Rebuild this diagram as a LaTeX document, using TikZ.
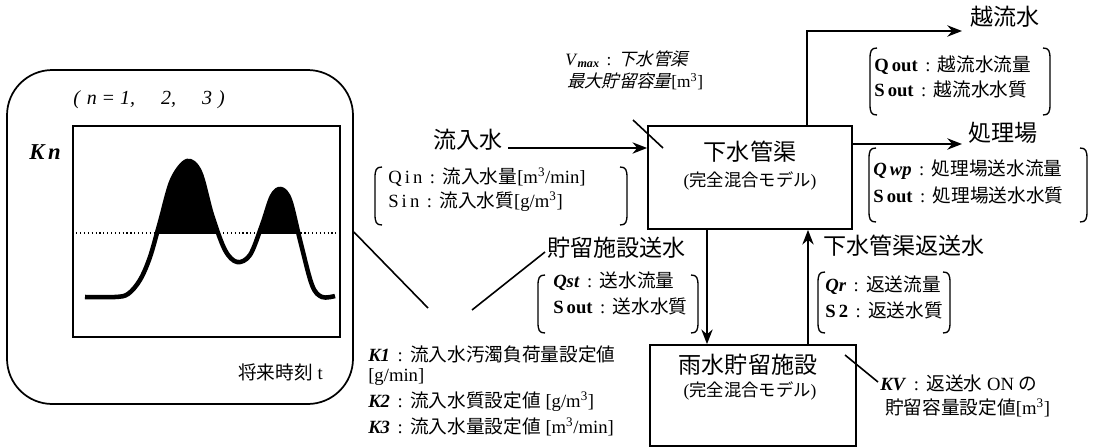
\documentclass[tikz,border=0pt]{standalone}
\usepackage{fontspec}
\setmainfont{Liberation Serif}
\newfontfamily\jpf{Noto Sans CJK JP}
\newfontfamily\jpit{Noto Sans CJK JP}[FakeSlant=0.25]
\usetikzlibrary{arrows.meta}
\newcommand\cj[1]{{\jpf #1}}
\newcommand\kcol{\hspace{0.4em}:\hspace{0.4em}}
\newcommand\LBr[3]{\draw[brk] (#1+7,#2) .. controls (#1+1,#2) and (#1,#2+3) .. (#1,#2+11) -- (#1,#3-11) .. controls (#1,#3-3) and (#1+1,#3) .. (#1+7,#3);}
\newcommand\RBr[3]{\draw[brk] (#1-7,#2) .. controls (#1-1,#2) and (#1,#2+3) .. (#1,#2+11) -- (#1,#3-11) .. controls (#1,#3-3) and (#1-1,#3) .. (#1-7,#3);}
\tikzset{
  box/.style={draw, line width=1.3pt, inner sep=0},
  arr/.style={line width=1.3pt, -{Stealth[length=11pt,width=8.5pt]}},
  ln/.style={line width=1.2pt},
  brk/.style={line width=1pt},
  big/.style={inner sep=0, font=\jpf\fontsize{17.3}{20}\selectfont},
  mid/.style={inner sep=0, font=\fontsize{14}{16}\selectfont},
  sub/.style={inner sep=0, font=\fontsize{13}{15}\selectfont},
}
\begin{document}
\begin{tikzpicture}[x=0.75pt,y=-0.75pt]
\useasboundingbox (0,0) rectangle (1093,447);
% left future box
\node[box, rounded corners=34pt, minimum width=259.5pt, minimum height=250.5pt] (fut) at (180,237) {};
\node[draw, line width=1pt, inner sep=0, minimum width=200.25pt, minimum height=158.25pt] (chart) at (206.5,231.5) {};
\node[inner sep=0, anchor=west, font=\fontsize{15}{17}\selectfont] (nlab) at (73,100) {\textit{(}\hspace{0.3em}\textit{n}\hspace{0.3em}=\hspace{0.3em}\textit{1,}\hspace{1.3em}\textit{2,}\hspace{1.3em}\textit{3}\hspace{0.3em}\textit{)}};
\node[inner sep=0, anchor=west, font=\fontsize{17}{19}\selectfont] (kn) at (29,152) {\textbf{\textit{K\,n}}};
\node[mid, anchor=east] (tlab) at (323,372) {\cj{将来時刻} t};
\coordinate (thr) at (0,233);
\begin{scope}
\clip (73,126) rectangle (340,233);
\fill plot[smooth, tension=0.55] coordinates {(85,297) (115,297) (128,294) (140,280) (150,257) (160,222) (172,180) (187,161) (200,172) (212,215) (225,250) (237,262) (250,255) (262,225) (272,196) (281,189) (290,200) (300,240) (312,285) (322,297) (335,296)} -- cycle;
\end{scope}
\draw[dotted, line width=0.9pt] (chart.west |- thr) -- (chart.east |- thr);
\draw[line width=3.4pt, line join=round] plot[smooth, tension=0.55] coordinates {(85,297) (115,297) (128,294) (140,280) (150,257) (160,222) (172,180) (187,161) (200,172) (212,215) (225,250) (237,262) (250,255) (262,225) (272,196) (281,189) (290,200) (300,240) (312,285) (322,297) (335,296)};

% boxes
\node[box, minimum width=153pt, minimum height=77.25pt] (sew) at (750,177.5) {};
\node[big] (sewt) at (750,152) {下水管渠};
\node[sub] (sews) at (750,181) {(\cj{完全混合モデル})};
\node[box, minimum width=154.5pt, minimum height=75.75pt] (sto) at (753,395.5) {};
\node[big] (stot) at (748,365) {雨水貯留施設};
\node[sub] (stos) at (750,391) {(\cj{完全混合モデル})};

% inflow
\node[big, anchor=west] (inl) at (433,140) {流入水};
\coordinate (inS) at (508,148);
\draw[arr] (inS) -- (sew.west |- inS);
\node[mid, anchor=west] (qin) at (388,177) {Q\,i\,n\kcol\cj{流入水量}[m\textsuperscript{3}/min]};
\node[mid, anchor=west] (sin) at (388,202) {S\,i\,n\kcol\cj{流入水質}[g/m\textsuperscript{3}]};
\LBr{375}{167}{225}
\RBr{627}{167}{225}

% Vmax
\coordinate (vm1) at (633,120);
\coordinate (vm2) at (663,148);
\draw[ln] (vm1) -- (vm2);
\node[inner sep=0, anchor=west, font=\fontsize{13}{15}\selectfont] (vmax1) at (565,59) {\textit{V}\textsubscript{\textit{\textbf{max}}}\kcol{\jpit 下水管渠}};
\node[inner sep=0, anchor=west, font=\fontsize{13}{15}\selectfont] (vmax2) at (567,81) {{\jpit 最大貯留容量}[m\textsuperscript{3}]};

% overflow
\coordinate (ovx) at (807,31);
\coordinate (ovend) at (962,31);
\draw[arr] (sew.north -| ovx) -- (ovx) -- (ovend);
\node[big, anchor=west] (ovl) at (970,17) {越流水};
\node[mid, anchor=west] (qout) at (874,65) {\textbf{Q\,out}\kcol\cj{越流水流量}};
\node[mid, anchor=west] (sout1) at (874,89) {\textbf{S\,out}\kcol\cj{越流水水質}};
\LBr{870}{48}{115}
\RBr{1050}{48}{115}

% treatment plant
\coordinate (trt) at (962,144);
\draw[arr] (sew.east |- trt) -- (trt);
\node[big, anchor=west] (trl) at (968,133) {処理場};
\node[mid, anchor=west] (qwp) at (873,170) {\textbf{\textit{Q\,wp}}\kcol\cj{処理場送水流量}};
\node[mid, anchor=west] (sout2) at (873,195) {\textbf{S\,out}\kcol\cj{処理場送水水質}};
\LBr{869}{148}{222}
\RBr{1087}{148}{222}

% to storage
\coordinate (dn) at (707,0);
\draw[arr] (sew.south -| dn) -- (sto.north -| dn);
\node[big, anchor=west] (stl) at (547,248) {貯留施設送水};
\node[mid, anchor=west] (qst) at (553,281) {\textbf{\textit{Qst}}\kcol\cj{送水流量}};
\node[mid, anchor=west] (sout3) at (553,306) {\textbf{S\,out}\kcol\cj{送水水質}};
\LBr{538}{275}{333}
\RBr{698}{275}{333}

% return
\coordinate (up) at (808,0);
\draw[arr] (sto.north -| up) -- (sew.south -| up);
\node[big, anchor=west] (rtl) at (823,246) {下水管渠返送水};
\node[mid, anchor=west] (qr) at (825,285) {\textbf{\textit{Qr}}\kcol\cj{返送流量}};
\node[mid, anchor=west] (s2) at (825,310) {\textbf{S\,2}\kcol\cj{返送水質}};
\LBr{818}{272}{333}
\RBr{950}{272}{333}

% K settings
\coordinate (c1a) at (352,232);
\coordinate (c1b) at (428,308);
\coordinate (c2a) at (472,310);
\coordinate (c2b) at (545,252);
\draw[ln] (fut.east |- c1a) -- (c1b);
\draw[ln] (c2a) -- (c2b);
\node[mid, anchor=west] (k1) at (368,354) {\textbf{\textit{K1}}\kcol\cj{流入水汚濁負荷量設定値}};
\node[mid, anchor=west] (k1u) at (368,377) {[g/min]};
\node[mid, anchor=west] (k2) at (368,402) {\textbf{\textit{K2}}\kcol\cj{流入水質設定値} [g/m\textsuperscript{3}]};
\node[mid, anchor=west] (k3) at (368,427) {\textbf{\textit{K3}}\kcol\cj{流入水量設定値} [m\textsuperscript{3}/min]};

% KV
\coordinate (kva) at (845,355);
\coordinate (kvb) at (878,382);
\draw[ln] (kva) -- (kvb);
\node[mid, anchor=west] (kv1) at (880,383) {\textbf{\textit{KV}}\kcol\cj{返送水} ON \cj{の}};
\node[mid, anchor=west] (kv2) at (885,408) {\cj{貯留容量設定値}[m\textsuperscript{3}]};
\end{tikzpicture}
\end{document}
